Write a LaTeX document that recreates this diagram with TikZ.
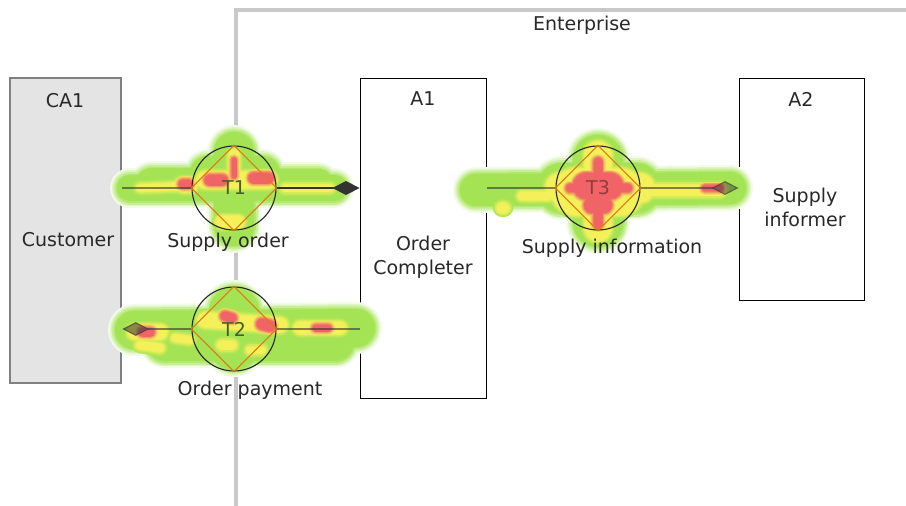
\documentclass[tikz,border=0pt]{standalone}
\usepackage{fontspec}
\setmainfont{DejaVu Sans}
\usetikzlibrary{arrows.meta, positioning}

\definecolor{heatgreen}{RGB}{164,228,84}
\definecolor{heatyellow}{RGB}{244,240,90}
\definecolor{heatred}{RGB}{240,100,104}
\definecolor{rhomborange}{RGB}{225,120,20}
\definecolor{actorgray}{RGB}{128,128,128}
\definecolor{actorfill}{RGB}{228,228,228}
\definecolor{framegray}{RGB}{200,200,200}
\definecolor{inkgray}{RGB}{40,40,40}

\begin{document}
\begin{tikzpicture}[x=1pt, y=-1pt,
        every node/.style={font=\fontsize{19}{24}\selectfont, text=inkgray},
        actor/.style={draw=actorgray, line width=2.5pt, fill=actorfill, inner sep=0pt},
        unit/.style={draw=black, line width=1pt, fill=white, inner sep=0pt},
        trans/.style={circle, draw=black!85, line width=1.1pt, minimum size=84pt, inner sep=0pt},
        link/.style={draw=black!80, line width=1.1pt, draw opacity=0.6},
        dtip/.style={-{Diamond[length=27pt, width=14pt]}},
        rhomb/.style={draw=rhomborange, line width=1.1pt},
        heat/.style={line cap=round, line join=round}
    ]
    \useasboundingbox (0,0) rectangle (906,506);

    % Enterprise boundary
    \draw[framegray, line width=3.5pt] (236,506) -- (236,10) -- (906,10);
    \node (ent) at (582,25) {Enterprise};

    % Actors
    \node[actor, minimum width=111pt, minimum height=305pt] (ca1) at (65.5,230.5) {};
    \node[unit, minimum width=126pt, minimum height=320pt] (a1) at (423,238) {};
    \node[unit, minimum width=125pt, minimum height=222pt] (a2) at (801.5,189) {};

    \node (ca1name) at (65,101) {CA1};
    \node (ca1role) at (68,240) {Customer};
    \node (a1name) at (423,99) {A1};
    \node[align=center] (a1role) at (423,257) {Order\\Completer};
    \node (a2name) at (801,99) {A2};
    \node[align=center] (a2role) at (805,207) {Supply\\informer};

    % Heat map
    \begin{scope}[heat]
        \foreach \ext/\pct in {14/15, 10/35, 7/60, 3/85, 0/100} {
            \foreach \xa/\ya/\xb/\yb/\w in {130/188/334/188/26, 152/184/195/184/32, 234/152/234/226/40,
                    208/174/262/174/36, 280/184/318/184/30,
                    134/330/356/328/38, 165/342/335/342/38, 234/312/234/345/50,
                    476/190/730/188/32, 598/160/598/222/50, 562/188/636/188/50}
                \draw[heatgreen!\pct, line width=\w+\ext] (\xa,\ya) -- (\xb,\yb);
        }
        \foreach \ext/\pct in {14/15, 10/35, 7/60, 3/85, 0/100} {
            \foreach \xa/\ya/\xb/\yb/\w in {140/188/190/186/7, 183/185/190/185/14, 205/180/268/180/16,
                    234/155/234/182/10, 222/222/238/222/12, 285/188/330/188/7,
                    135/332/160/332/14, 205/320/280/325/14, 222/345/232/345/9, 300/328/340/328/12,
                    250/350/262/350/7, 175/338/190/340/7, 140/345/160/348/8,
                    560/188/640/188/28, 598/155/598/228/26, 576/192/620/192/46,
                    640/190/720/190/11, 502/208/504/208/10, 522/196/548/196/8}
                \draw[heatyellow!\pct!heatgreen, line width=\w+0.6*\ext] (\xa,\ya) -- (\xb,\yb);
        }
        \foreach \ext/\pct in {14/15, 10/35, 7/60, 3/85, 0/100} {
            \foreach \xa/\ya/\xb/\yb/\w in {183/184/188/184/9, 210/180/222/180/11, 254/178/268/178/11,
                    234/160/234/176/5,
                    143/332/150/332/9, 225/316/232/318/9, 262/324/270/326/11, 316/328/328/328/7,
                    598/162/598/224/9, 570/188/628/188/8, 586/186/610/186/26, 592/205/604/205/16,
                    705/188/720/188/6}
                \draw[heatred!\pct!heatyellow, line width=\w+0.5*\ext] (\xa,\ya) -- (\xb,\yb);
        }
    \end{scope}

    % Transactions
    \node[trans] (t1) at (234,188) {};
    \node[trans] (t2) at (234,329) {};
    \node[trans] (t3) at (598,188) {};
    \foreach \t in {t1,t2,t3}
        \draw[rhomb] (\t.north) -- (\t.east) -- (\t.south) -- (\t.west) -- cycle;
    \node[text=black!40!heatgreen!70!black] (t1name) at (t1) {T1};
    \node[text=black!40!heatgreen!70!black] (t2name) at (t2) {T2};
    \node[text=heatred!60!black] (t3name) at (t3) {T3};

    % Links
    \draw[link] (ca1.east |- t1) -- (t1.west);
    \draw[link, dtip, draw opacity=1] (t1.east) -- (a1.west |- t1);
    \draw[link, dtip, fill opacity=0.55] (t2.west) -- (ca1.east |- t2);
    \draw[link] (t2.east) -- (a1.west |- t2);
    \draw[link] (a1.east |- t3) -- (t3.west);
    \draw[link, dtip, fill opacity=0.45] (t3.east) -- (a2.west |- t3);

    % Transaction names
    \node (t1lbl) at (228,242) {Supply order};
    \node (t2lbl) at (250,390) {Order payment};
    \node (t3lbl) at (612,248) {Supply information};
\end{tikzpicture}
\end{document}
